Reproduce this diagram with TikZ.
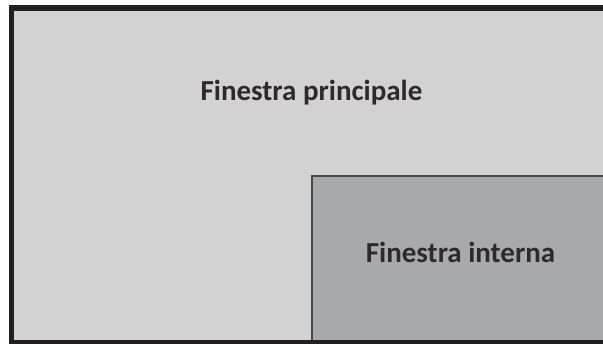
\documentclass[tikz,border=0pt]{standalone}
\usepackage{fontspec}
\setmainfont{Carlito}
\usepackage{xcolor}
\usetikzlibrary{positioning}

\definecolor{mainfill}{HTML}{D2D2D3}
\definecolor{innerfill}{HTML}{A8A9AB}
\definecolor{framecol}{HTML}{231F20}

\begin{document}
\begin{tikzpicture}[
    x=1pt, y=-1pt,
    window/.style={rectangle, anchor=north west, inner sep=0pt, outer sep=0pt},
    title/.style={anchor=base, inner sep=0pt, font=\fontsize{29}{34}\selectfont\bfseries, text=framecol!95}
]
\useasboundingbox (0,0) rectangle (603,344);
\clip (0,0) rectangle (603,344);

% Windows
\node [window, fill=mainfill, minimum width=609pt, minimum height=335pt] (main) at (11.5,8) {};
\node [window, fill=innerfill, draw=black!72, line width=2pt, minimum width=310pt, minimum height=180pt] (inner) at (312,176) {};
\draw [framecol, line width=5.5pt] (main.south west) rectangle (main.north east);

% Labels
\node [title] (maintext) at (311.5,101) {Finestra principale};
\node [title] (innertext) at (460.5,263) {Finestra interna};

\end{tikzpicture}
\end{document}
